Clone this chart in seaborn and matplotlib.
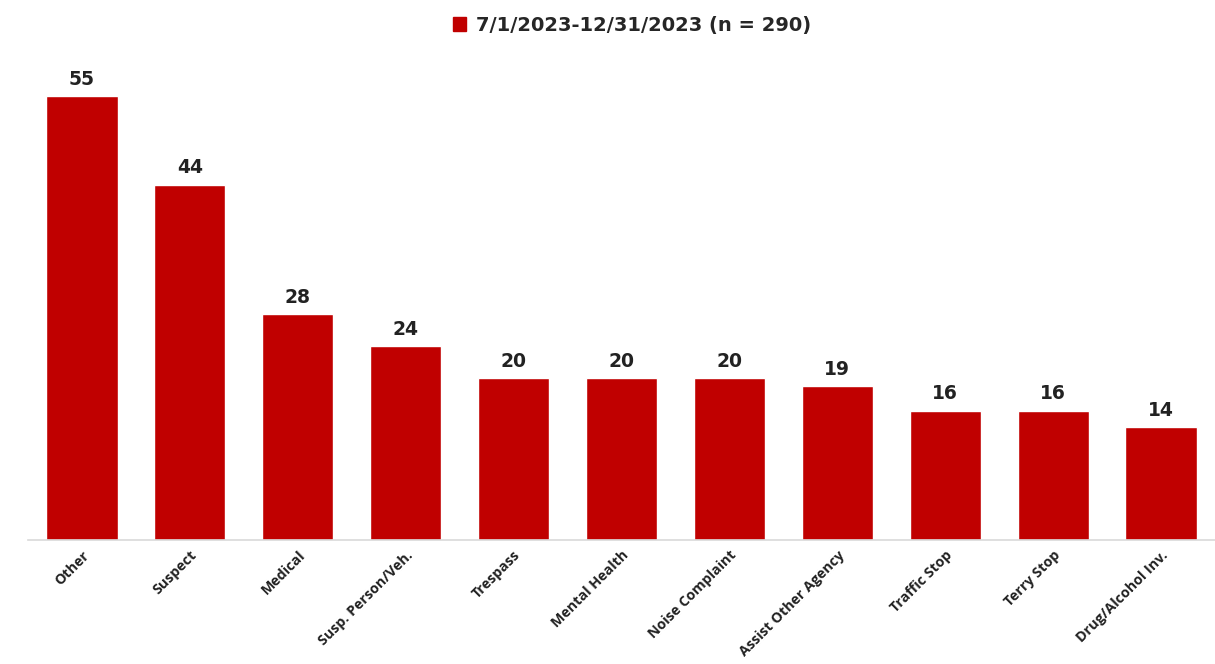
import matplotlib
matplotlib.use("Agg")
import matplotlib.pyplot as plt
import seaborn as sns
import pandas as pd
from matplotlib.patches import Patch

categories = ["Other", "Suspect", "Medical", "Susp. Person/Veh.", "Trespass",
              "Mental Health", "Noise Complaint", "Assist Other Agency",
              "Traffic Stop", "Terry Stop", "Drug/Alcohol Inv."]
values = [55, 44, 28, 24, 20, 20, 20, 19, 16, 16, 14]
series_label = "7/1/2023-12/31/2023 (n = 290)"
bar_color = "#C00000"

sns.set_theme(style="white")
plt.rcParams['font.family'] = ['Open Sans', 'DejaVu Sans']

df = pd.DataFrame({"category": categories, "count": values})

fig = plt.figure(figsize=(12.15, 6.64), dpi=100)
ax = fig.add_axes([0.023, 0.187, 0.977, 0.738])
sns.barplot(data=df, x="category", y="count", color=bar_color, width=0.66,
            saturation=1, ax=ax)

for p, v in zip(ax.patches, values):
    ax.text(p.get_x() + p.get_width() / 2, p.get_height() + 0.9, str(v),
            ha="center", va="bottom", fontsize=13.5, fontweight="bold",
            color="#222222", family="DejaVu Sans")

ax.set_ylim(0, 60.7)
ax.set_xlim(-0.5, 10.5)
ax.set_yticks([])
ax.set_xlabel("")
ax.set_ylabel("")
for s in ["top", "right", "left"]:
    ax.spines[s].set_visible(False)
ax.spines["bottom"].set_color("#D9D9D9")
ax.spines["bottom"].set_linewidth(1.2)

ax.set_xticks(range(len(categories)))
ax.set_xticklabels(categories, rotation=45, ha="right", rotation_mode="anchor",
                   fontsize=10.3, fontweight="bold", color="#222222")
ax.tick_params(axis="x", length=0, pad=6)

handle = Patch(facecolor=bar_color, edgecolor=bar_color)
fig.legend([handle], [series_label], loc="center", bbox_to_anchor=(0.52, 0.962),
           frameon=False, prop={"size": 14, "weight": "bold", "family": "DejaVu Sans"},
           handlelength=0.7, handleheight=0.7, handletextpad=0.5)

fig.savefig("out.png", dpi=100)
